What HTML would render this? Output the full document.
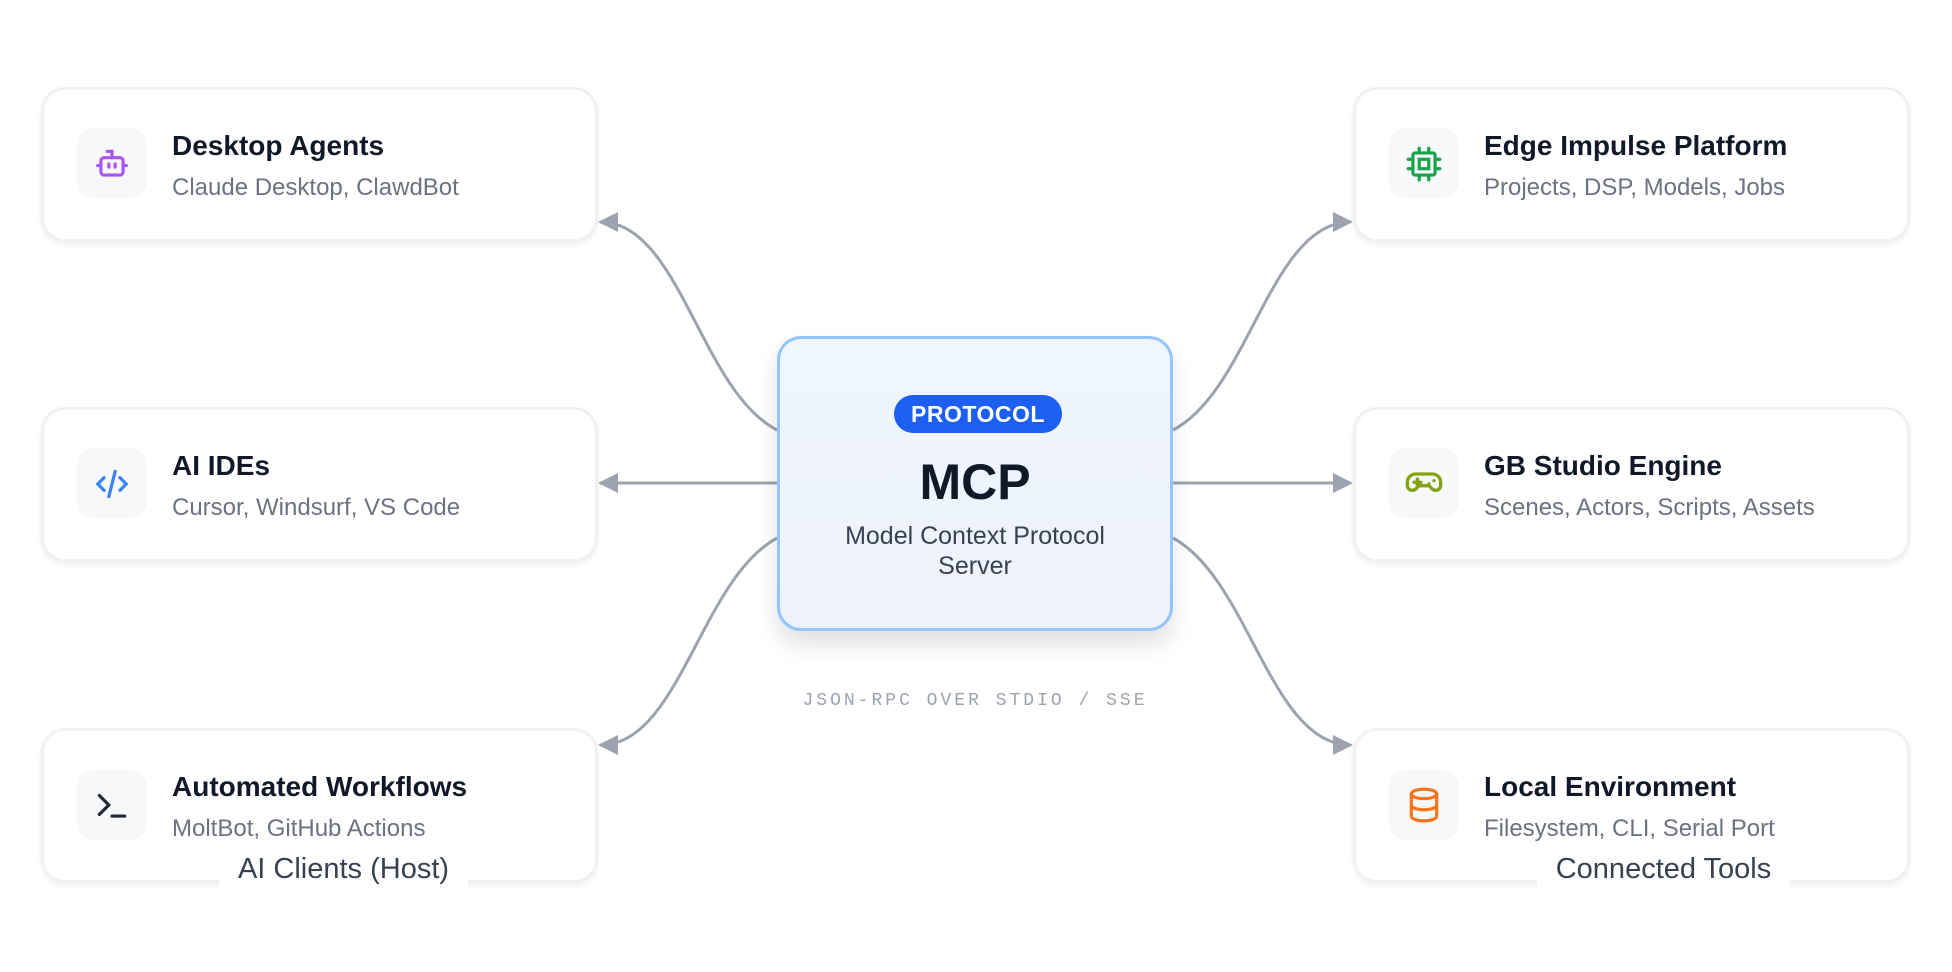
<!DOCTYPE html>
<html><head><meta charset="utf-8"><style>
*{margin:0;padding:0;box-sizing:border-box}
body{width:1952px;height:972px;background:#fff;position:relative;overflow:hidden;font-family:"Liberation Sans",sans-serif}
.card{position:absolute;width:557px;height:155px;background:#fff;border:3px solid #f0f1f3;border-radius:24px;box-shadow:0 3px 6px rgba(0,0,0,0.06)}
.ic{position:absolute;left:32px;top:38px;width:71px;height:71px;border-radius:18px;background:#f7f8fa;display:flex;align-items:center;justify-content:center}
.t{position:absolute;left:128px;top:40px;font-size:28px;font-weight:bold;color:#111827}
.s{position:absolute;left:128px;top:84px;font-size:24px;color:#6b7280}
.lab{position:absolute;background:#fff;font-size:29px;color:#374151;text-align:center;height:37px;line-height:37px}
</style></head><body>
<svg width="1952" height="972" style="position:absolute;left:0;top:0">
<defs>
<marker id="b" viewBox="0 0 10 10" refX="9" refY="5" markerWidth="20" markerHeight="24" orient="auto" markerUnits="userSpaceOnUse"><path d="M0,0 L10,5 L0,10 z" fill="#9ca3af"/></marker></defs>
<g fill="none" stroke="#9ca3af" stroke-width="3">
<path d="M777 430 C700 390,680 222,600 222" marker-end="url(#b)"/>
<path d="M777 483 L600 483" marker-end="url(#b)"/>
<path d="M777 538 C700 580,680 745,600 745" marker-end="url(#b)"/>
<path d="M1173 430 C1250 390,1270 222,1351 222" marker-end="url(#b)"/>
<path d="M1173 483 L1351 483" marker-end="url(#b)"/>
<path d="M1173 538 C1250 580,1270 745,1351 745" marker-end="url(#b)"/>
</g></svg>

<div class="card" style="left:41px;top:87px"><div class="ic"><svg width="38" height="38" viewBox="0 0 24 24" fill="none" stroke="#a855f7" stroke-width="2" stroke-linecap="round"><path d="M12 8V4H9"/><rect x="5" y="8" width="14" height="11" rx="2"/><path d="M3 13h2M19 13h2M10 12v2M14 12v2"/></svg></div><div class="t">Desktop Agents</div><div class="s">Claude Desktop, ClawdBot</div></div>
<div class="card" style="left:41px;top:407px"><div class="ic"><svg width="38" height="38" viewBox="0 0 24 24" fill="none" stroke="#3b82f6" stroke-width="2" stroke-linecap="round"><path d="M7 8l-4 4 4 4M17 8l4 4-4 4M14 4l-4 16"/></svg></div><div class="t">AI IDEs</div><div class="s">Cursor, Windsurf, VS Code</div></div>
<div class="card" style="left:41px;top:728px"><div class="ic"><svg width="38" height="38" viewBox="0 0 24 24" fill="none" stroke="#1f2937" stroke-width="2" stroke-linecap="round"><path d="M4 6l6 6-6 6M12 19h8"/></svg></div><div class="t">Automated Workflows</div><div class="s">MoltBot, GitHub Actions</div></div>

<div class="card" style="left:1353px;top:87px"><div class="ic"><svg width="38" height="38" viewBox="0 0 24 24" fill="none" stroke="#16a34a" stroke-width="2" stroke-linecap="round"><rect x="5" y="5" width="14" height="14" rx="1.5"/><rect x="9" y="9" width="6" height="6"/><path d="M9 2v3M15 2v3M9 19v3M15 19v3M2 9h3M2 15h3M19 9h3M19 15h3"/></svg></div><div class="t">Edge Impulse Platform</div><div class="s">Projects, DSP, Models, Jobs</div></div>
<div class="card" style="left:1353px;top:407px"><div class="ic"><svg width="40" height="40" viewBox="0 0 24 24" fill="none" stroke="#84a313" stroke-width="2" stroke-linecap="round"><path d="M6 11h4M8 9v4M15 12h.01M18 10h.01"/><path d="M17 6H7a5 5 0 0 0-5 5v2a3 3 0 0 0 5 2l2-2h6l2 2a3 3 0 0 0 5-2v-2a5 5 0 0 0-5-5z"/></svg></div><div class="t">GB Studio Engine</div><div class="s">Scenes, Actors, Scripts, Assets</div></div>
<div class="card" style="left:1353px;top:728px"><div class="ic"><svg width="38" height="38" viewBox="0 0 24 24" fill="none" stroke="#f97316" stroke-width="2" stroke-linecap="round"><ellipse cx="12" cy="5" rx="8" ry="3"/><path d="M4 5v14c0 1.7 3.6 3 8 3s8-1.3 8-3V5M4 12c0 1.7 3.6 3 8 3s8-1.3 8-3"/></svg></div><div class="t">Local Environment</div><div class="s">Filesystem, CLI, Serial Port</div></div>

<div class="lab" style="left:219px;top:851px;width:249px">AI Clients (Host)</div>
<div class="lab" style="left:1537px;top:851px;width:253px">Connected Tools</div>

<div style="position:absolute;left:777px;top:336px;width:396px;height:295px;border:3px solid #93c5fd;border-radius:24px;background:linear-gradient(#eff6ff,#eef2fc);box-shadow:0 14px 24px rgba(0,0,0,0.12);text-align:center">
<div style="position:absolute;left:114px;top:56px;width:168px;height:38px;border-radius:19px;background:#1d5ff0;color:#fff;font-weight:bold;font-size:23px;line-height:38px;letter-spacing:0.5px">PROTOCOL</div>
<div style="position:absolute;left:0;right:0;top:114px;font-size:50px;font-weight:bold;color:#111827">MCP</div>
<div style="position:absolute;left:0;right:0;top:182px;font-size:25px;line-height:30px;color:#374151">Model Context Protocol<br>Server</div>
</div>
<div style="position:absolute;left:700px;width:550px;top:691px;text-align:center;font-family:'Liberation Mono',monospace;font-size:18px;color:#9ca3af;letter-spacing:3px">JSON-RPC OVER STDIO / SSE</div>
</body></html>
